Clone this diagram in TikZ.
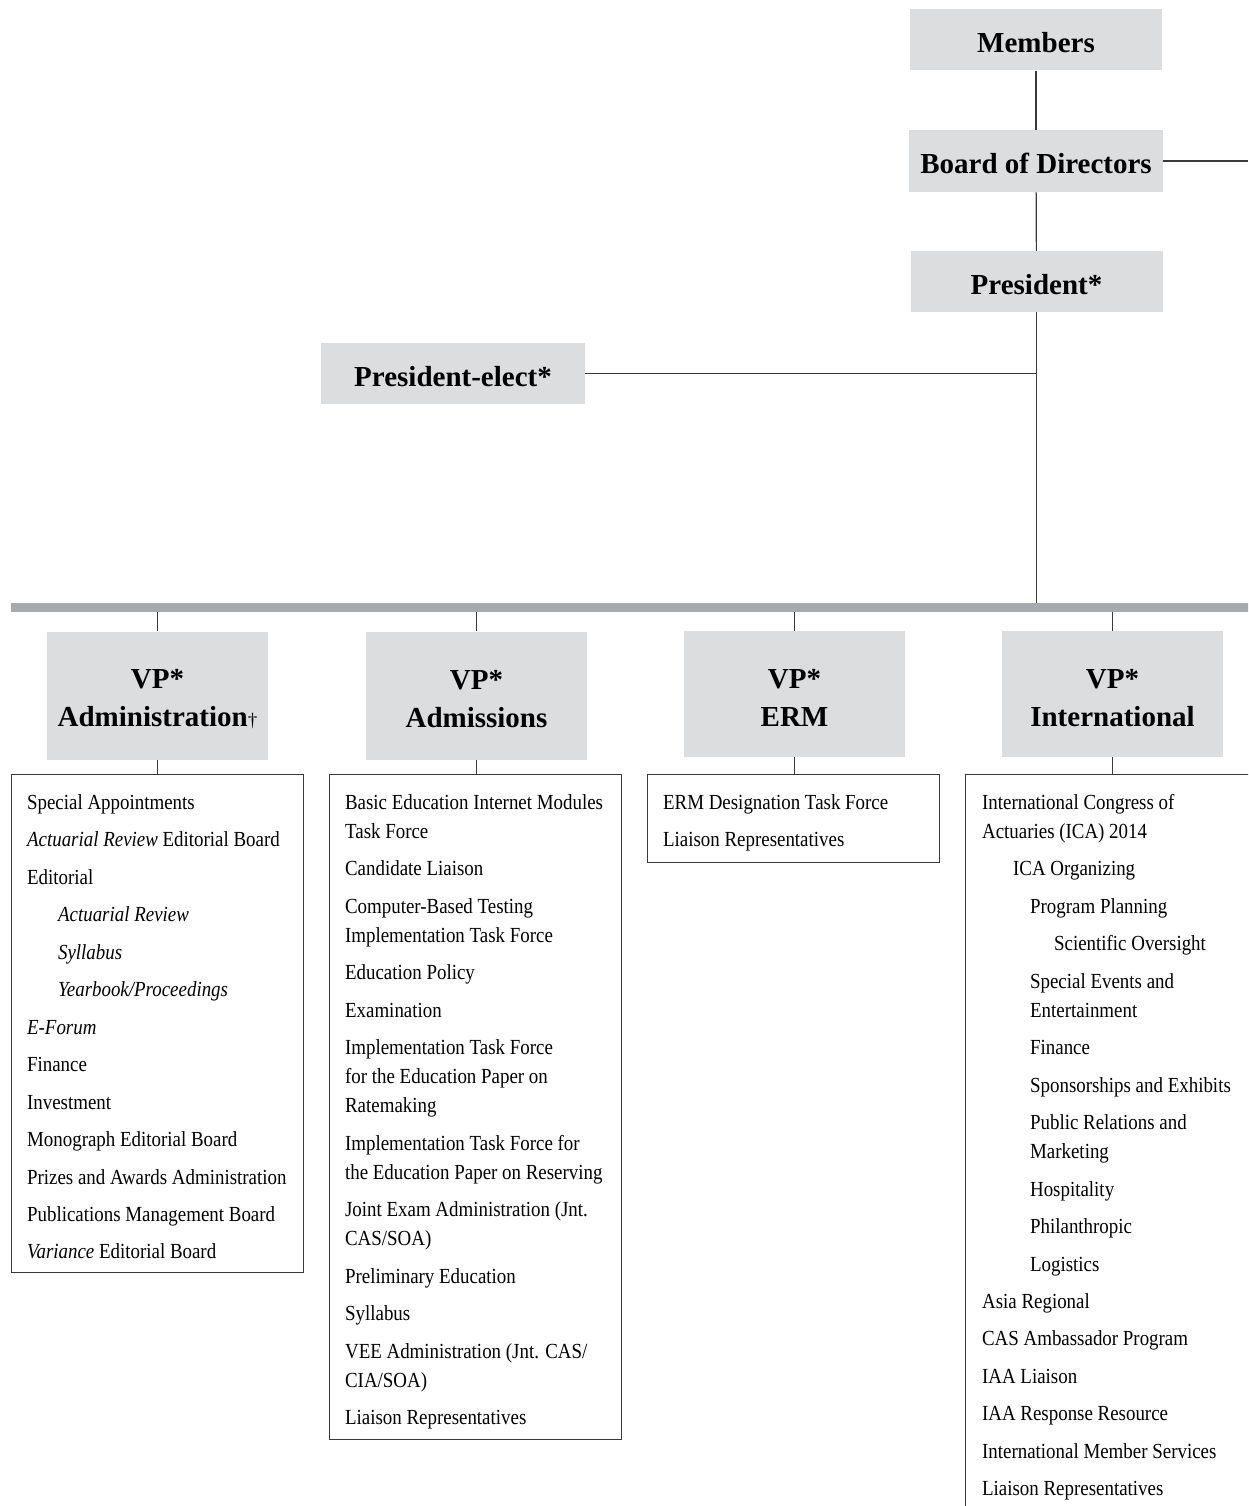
\documentclass[tikz,border=0pt]{standalone}
\usepackage{fontspec}
\setmainfont{Liberation Serif}
\newfontfamily\listfamily[FakeStretch=0.88]{Liberation Serif}

\definecolor{boxgray}{HTML}{DCDDDF}
\definecolor{bargray}{HTML}{A7A9AC}
\definecolor{linegray}{HTML}{3A3A3A}

\newcommand{\headfont}{\bfseries\fontsize{29}{38}\selectfont}
\newcommand{\itemfont}{\listfamily\fontsize{21.5}{29}\selectfont}
\newcommand{\itemgap}{\\[8.45pt]}
\newcommand{\subA}{\hspace*{31pt}}
\newcommand{\subB}{\hspace*{48pt}}
\newcommand{\subC}{\hspace*{72pt}}
\newcommand{\vpstrut}{\rule{0pt}{27pt}}
\newcommand{\thindagger}{{\mdseries\fontsize{19}{19}\selectfont\textdagger}}

\begin{document}
\begin{tikzpicture}[x=1pt, y=-1pt,
    headbox/.style={fill=boxgray, minimum width=252pt, minimum height=61pt, inner sep=0pt, text height=25pt, text depth=0pt, font=\headfont},
    vpbox/.style={fill=boxgray, minimum width=221pt, minimum height=128pt, inner sep=0pt, align=center, font=\headfont},
    listbox/.style={draw=linegray, line width=1.2pt, minimum width=292pt, anchor=north, inner sep=0pt},
    listtext/.style={anchor=north west, inner sep=0pt, align=left, font=\itemfont},
    link/.style={draw=linegray, line width=1.2pt}]
        \useasboundingbox (0, 0) rectangle (1248, 1506);
        \clip (0, 0) rectangle (1248, 1506);

        \node[headbox] (Members) at (1036, 40) {Members};
        \node[headbox, minimum width=254pt, minimum height=62pt] (Board) at (1036, 161) {Board of Directors};
        \node[headbox] (President) at (1036.5, 281.5) {President*};
        \node[headbox, minimum width=264pt] (PresElect) at (453, 373.5) {President-elect*};
        \node[fill=bargray, minimum width=1240pt, minimum height=9pt, inner sep=0pt] (Bar) at (631, 607.5) {};
        \coordinate (RightEdge) at (1248, 161);

        \node[vpbox] (VPAdmin) at (157.5, 695.5) {\vpstrut VP*\\Administration\thindagger};
        \node[vpbox] (VPAdmissions) at (476.5, 695.5) {\vpstrut VP*\\Admissions};
        \node[vpbox, minimum height=126pt] (VPERM) at (794.5, 694) {\vpstrut VP*\\ERM};
        \node[vpbox, minimum height=126pt] (VPIntl) at (1112.5, 694) {\vpstrut VP*\\International};

        \node[listbox, minimum height=498pt] (AdminList) at (157.5, 774) {};
        \node[listbox, minimum height=665pt] (AdmissionsList) at (475.5, 774) {};
        \node[listbox, minimum height=88pt] (ERMList) at (793.5, 774) {};
        \node[listbox, minimum width=300pt, minimum height=760pt] (IntlList) at (1115.5, 774) {};

        \draw[link] (Members) to (Board);
        \draw[link] (Board) to (President);
        \draw[link] (Board.east) to (RightEdge);
        \draw[link] (President.south) to (President.south |- Bar.north);
        \draw[link] (PresElect.east) to (PresElect.east -| President.south);

        \draw[link] (VPAdmin.north |- Bar.south) to (VPAdmin.north);
        \draw[link] (VPAdmissions.north |- Bar.south) to (VPAdmissions.north);
        \draw[link] (VPERM.north |- Bar.south) to (VPERM.north);
        \draw[link] (VPIntl.north |- Bar.south) to (VPIntl.north);
        \draw[link] (VPAdmin.south) to (VPAdmin.south |- AdminList.north);
        \draw[link] (VPAdmissions.south) to (VPAdmissions.south |- AdmissionsList.north);
        \draw[link] (VPERM.south) to (VPERM.south |- ERMList.north);
        \draw[link] (VPIntl.south) to (VPIntl.south |- IntlList.north);

        \node[listtext] (AdminItems) at ([xshift=16pt, yshift=-15pt]AdminList.north west) {\strut Special Appointments\itemgap
            \textit{Actuarial Review} Editorial Board\itemgap
            Editorial\itemgap
            \subA\textit{Actuarial Review}\itemgap
            \subA\textit{Syllabus}\itemgap
            \subA\textit{Yearbook/Proceedings}\itemgap
            \textit{E-Forum}\itemgap
            Finance\itemgap
            Investment\itemgap
            Monograph Editorial Board\itemgap
            Prizes and Awards Administration\itemgap
            Publications Management Board\itemgap
            \textit{Variance} Editorial Board};

        \node[listtext] (AdmissionsItems) at ([xshift=16pt, yshift=-15pt]AdmissionsList.north west) {\strut Basic Education Internet Modules\\
            Task Force\itemgap
            Candidate Liaison\itemgap
            Computer-Based Testing\\
            Implementation Task Force\itemgap
            Education Policy\itemgap
            Examination\itemgap
            Implementation Task Force\\
            for the Education Paper on\\
            Ratemaking\itemgap
            Implementation Task Force for\\
            the Education Paper on Reserving\itemgap
            Joint Exam Administration (Jnt.\\
            CAS/SOA)\itemgap
            Preliminary Education\itemgap
            Syllabus\itemgap
            VEE Administration (Jnt. CAS/\\
            CIA/SOA)\itemgap
            Liaison Representatives};

        \node[listtext] (ERMItems) at ([xshift=16pt, yshift=-15pt]ERMList.north west) {\strut ERM Designation Task Force\itemgap
            Liaison Representatives};

        \node[listtext] (IntlItems) at ([xshift=17pt, yshift=-15pt]IntlList.north west) {\strut International Congress of\\
            Actuaries (ICA) 2014\itemgap
            \subA ICA Organizing\itemgap
            \subB Program Planning\itemgap
            \subC Scientific Oversight\itemgap
            \subB Special Events and\\
            \subB Entertainment\itemgap
            \subB Finance\itemgap
            \subB Sponsorships and Exhibits\itemgap
            \subB Public Relations and\\
            \subB Marketing\itemgap
            \subB Hospitality\itemgap
            \subB Philanthropic\itemgap
            \subB Logistics\itemgap
            Asia Regional\itemgap
            CAS Ambassador Program\itemgap
            IAA Liaison\itemgap
            IAA Response Resource\itemgap
            International Member Services\itemgap
            Liaison Representatives};
    \end{tikzpicture}
\end{document}
